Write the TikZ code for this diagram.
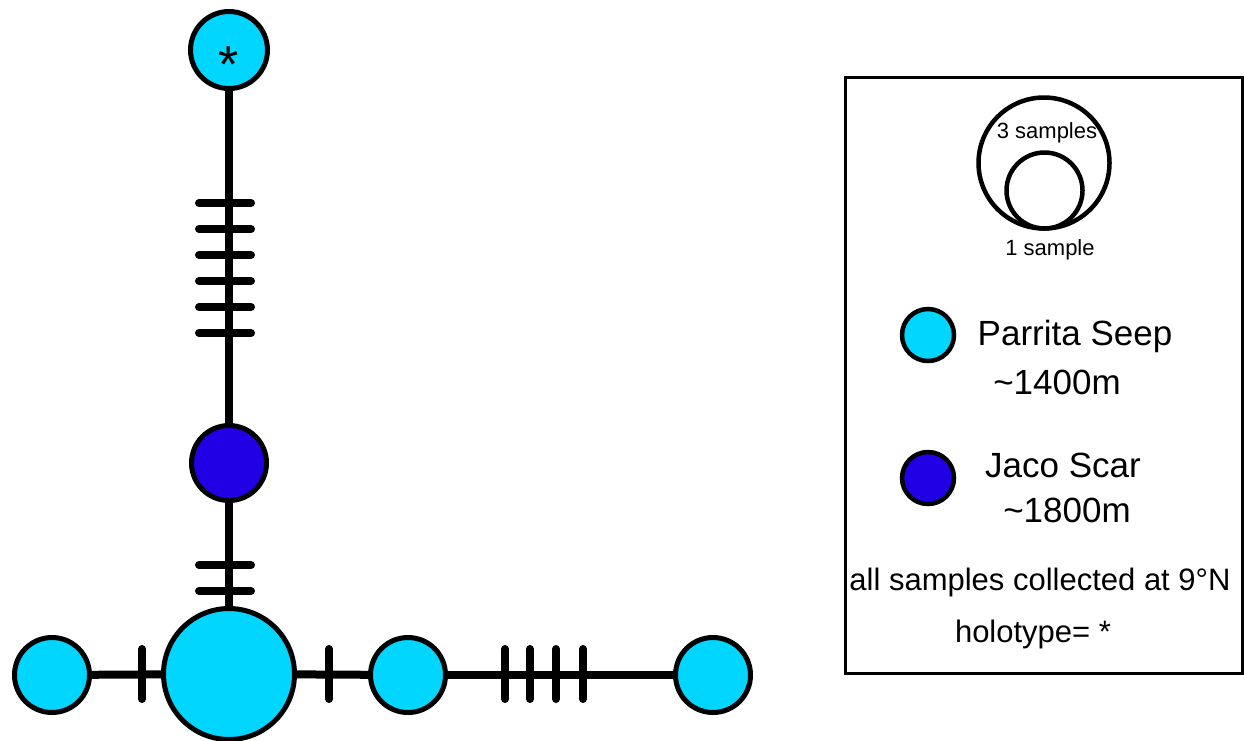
\documentclass[tikz,border=0pt]{standalone}
\usepackage{fontspec}
\setmainfont{Liberation Sans}
\definecolor{seep}{RGB}{0,214,255}
\definecolor{scar}{RGB}{34,0,230}
\begin{document}
\begin{tikzpicture}[x=1pt,y=-1pt,
  hap/.style={circle, draw=black, line width=5pt, inner sep=0pt, minimum size=#1},
  edge/.style={line width=8pt},
  tick/.style={line width=8pt, line cap=round},
  key/.style={circle, draw=black, line width=4.5pt, inner sep=0pt, minimum size=#1},
  big/.style={font=\fontsize{35}{42}\selectfont, anchor=base},
  mid/.style={font=\fontsize{31}{37}\selectfont, anchor=base},
  small/.style={font=\fontsize{22}{26}\selectfont, anchor=base}]
\useasboundingbox (0,0) rectangle (1244,740);

% haplotype network
\node[hap=77, fill=seep] (holo) at (229,50) {};
\node[font=\fontsize{52}{60}\selectfont, anchor=base] (star) at (229,82) {*};
\node[hap=75, fill=scar] (jaco) at (229,463) {};
\node[hap=131, fill=seep] (hub) at (229,674) {};
\node[hap=75, fill=seep] (west) at (52,675) {};
\node[hap=75, fill=seep] (east) at (408,675) {};
\node[hap=75, fill=seep] (far) at (713,675) {};

\draw[edge] (holo) -- (jaco);
\draw[edge] (jaco) -- (hub);
\draw[edge] (west) -- (hub);
\draw[edge] (hub) -- (east);
\draw[edge] (east) -- (far);

% mutational steps
\foreach \y in {203,229,255,281,307,333}
  \draw[tick] (199,\y) -- (251,\y);
\foreach \y in {565,591}
  \draw[tick] (199,\y) -- (251,\y);
\foreach \x in {142,329,505,530,556,583}
  \draw[tick] (\x,649) -- (\x,699);

% legend
\node[draw=black, line width=3pt, minimum width=397, minimum height=596, inner sep=0pt] (legend) at (1043.5,375) {};
\node[key=131] (three) at (1044,163) {};
\node[key=76] (one) at (1044.5,190.5) {};
\node[small] (threetxt) at (1047,138) {3 samples};
\node[small] (onetxt) at (1050,255) {1 sample};

\node[key=52, fill=seep] (keyseep) at (928,335) {};
\node[big] (seepname) at (1075,345) {Parrita Seep};
\node[big] (seepdepth) at (1057,394) {\textasciitilde1400m};

\node[key=52, fill=scar] (keyscar) at (928,478) {};
\node[big] (scarname) at (1063,477) {Jaco Scar};
\node[big] (scardepth) at (1067,522) {\textasciitilde1800m};

\node[mid] (lat) at (1040,590) {all samples collected at 9°N};
\node[mid] (holonote) at (1033,642) {holotype= *};
\end{tikzpicture}
\end{document}
